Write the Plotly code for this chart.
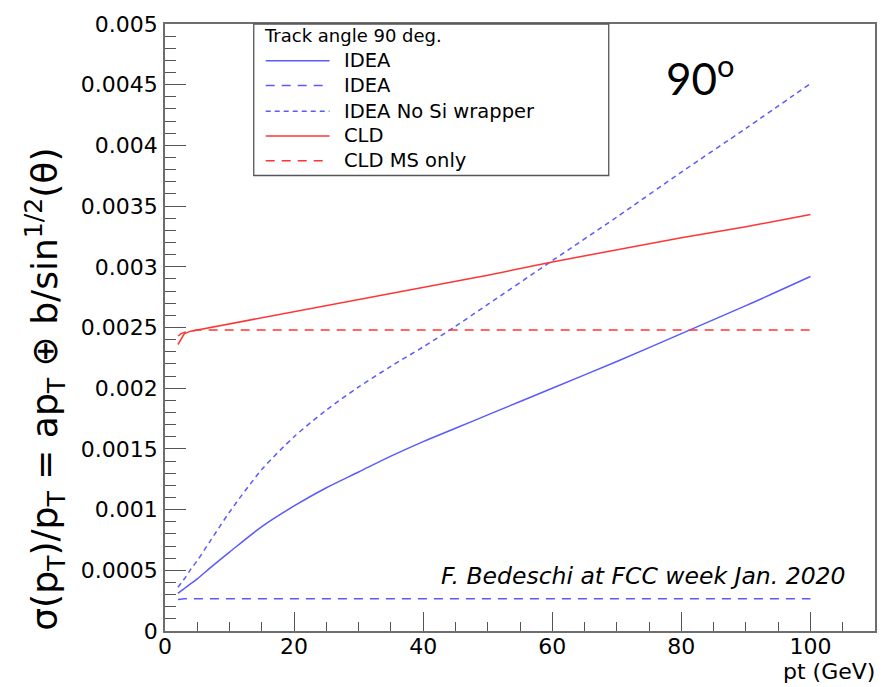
import plotly.graph_objects as go

# ---------------- data ----------------
pt = [2, 2.5, 3, 4, 5, 7, 10, 15, 20, 25, 30, 35, 40, 45, 50, 60, 70, 80, 90, 100]

idea = [0.00031, 0.00033, 0.00035, 0.00039, 0.00043, 0.00052, 0.00065, 0.00086,
        0.00103, 0.00118, 0.00131, 0.00144, 0.00156, 0.00167, 0.00178, 0.00200,
        0.00222, 0.00245, 0.00268, 0.00292]

idea_ms = [0.00026, 0.000263, 0.000265, 0.000265, 0.000265, 0.000265, 0.000265,
           0.000265, 0.000265, 0.000265, 0.000265, 0.000265, 0.000265, 0.000265,
           0.000265, 0.000265, 0.000265, 0.000265, 0.000265, 0.000265]

idea_nosi = [0.00036, 0.000395, 0.00043, 0.00051, 0.00058, 0.00074, 0.00098, 0.00133,
             0.00160, 0.00182, 0.00201, 0.00218, 0.00234, 0.00251, 0.00269, 0.00305,
             0.00341, 0.00378, 0.00414, 0.00451]

cld = [0.00236, 0.00241, 0.00245, 0.00247, 0.00248, 0.00250, 0.00253, 0.00258,
       0.00263, 0.00268, 0.00273, 0.00278, 0.00283, 0.00288, 0.00293, 0.00304,
       0.00314, 0.00324, 0.00333, 0.00343]

cld_ms = [0.00243, 0.00245, 0.00246, 0.00247, 0.00248, 0.00248, 0.00248, 0.00248,
          0.00248, 0.00248, 0.00248, 0.00248, 0.00248, 0.00248, 0.00248, 0.00248,
          0.00248, 0.00248, 0.00248, 0.00248]

series_names = ["IDEA", "IDEA", "IDEA No Si wrapper", "CLD", "CLD MS only"]

x_ticks = [0, 20, 40, 60, 80, 100]
y_ticks = [0, 0.0005, 0.001, 0.0015, 0.002, 0.0025, 0.003, 0.0035, 0.004, 0.0045, 0.005]
y_ticktext = ["0", "0.0005", "0.001", "0.0015", "0.002", "0.0025", "0.003",
              "0.0035", "0.004", "0.0045", "0.005"]

# ---------------- styling ----------------
W, H = 889, 687
ML, MR, MT, MB = 165, 12, 18, 56
PW, PH = W - ML - MR, H - MT - MB

BLUE = "#5a5aff"
RED = "#ff3434"
styles = [
    (BLUE, "solid", "spline"),
    (BLUE, "9px,7px", "linear"),
    (BLUE, "5px,4px", "spline"),
    (RED, "solid", "linear"),
    (RED, "9px,7px", "linear"),
]
data_series = [idea, idea_ms, idea_nosi, cld, cld_ms]


def px(xp):
    return (xp - ML) / PW


def py(yp):
    return (H - MB - yp) / PH


fig = go.Figure()
for name, ys, (col, dash, shape) in zip(series_names, data_series, styles):
    fig.add_trace(go.Scatter(x=pt, y=ys, mode="lines", name=name, showlegend=False,
                             hoverinfo="skip",
                             line=dict(color=col, width=1.5, dash=dash, shape=shape,
                                       smoothing=0.8)))

TICKFONT = dict(family="DejaVu Sans", size=22, color="black")
AXCOL = "#6e6e6e"

fig.update_xaxes(range=[0, 110], tickvals=x_ticks, ticks="inside", ticklen=19,
                 tickwidth=1.3, tickcolor="#555", showline=True, linecolor=AXCOL,
                 linewidth=1.5, mirror=True, showgrid=False, zeroline=False,
                 tickfont=TICKFONT, ticklabelstandoff=-5,
                 minor=dict(dtick=5, ticks="inside", ticklen=9, tickwidth=1.3,
                            tickcolor="#555", showgrid=False))
fig.update_yaxes(range=[0, 0.005], tickvals=y_ticks, ticktext=y_ticktext,
                 ticks="inside", ticklen=21, tickwidth=1.3, tickcolor="#555",
                 showline=True, linecolor=AXCOL, linewidth=1.5, mirror=True,
                 showgrid=False, zeroline=False, tickfont=TICKFONT,
                 ticklabelstandoff=1,
                 minor=dict(dtick=0.0001, ticks="inside", ticklen=11, tickwidth=1.3,
                            tickcolor="#555", showgrid=False))

shapes = []
annotations = []

# legend box (manual, ROOT style)
shapes.append(dict(type="rect", xref="paper", yref="paper",
                   x0=px(254), x1=px(610), y0=py(171), y1=py(18),
                   line=dict(color="#555", width=1.3), fillcolor="white", layer="above"))
annotations.append(dict(xref="paper", yref="paper", x=px(262), y=py(30),
                        xanchor="left", yanchor="middle", showarrow=False,
                        text="Track angle 90 deg.",
                        font=dict(family="DejaVu Sans", size=18, color="black")))
rows = [55, 80, 106, 131, 156]
for name, (col, dash, _), ry in zip(series_names, styles, rows):
    shapes.append(dict(type="line", xref="paper", yref="paper",
                       x0=px(266), x1=px(330), y0=py(ry), y1=py(ry),
                       line=dict(color=col, width=1.5, dash=dash), layer="above"))
    annotations.append(dict(xref="paper", yref="paper", x=px(342), y=py(ry),
                            xanchor="left", yanchor="middle", showarrow=False,
                            text=name,
                            font=dict(family="DejaVu Sans", size=19.5, color="black")))

# y-axis title
annotations.append(dict(xref="paper", yref="paper", x=px(45), y=py(387),
                        xanchor="center", yanchor="middle", showarrow=False,
                        textangle=-90,
                        text="σ(p<sub>T</sub>)/p<sub>T</sub> = ap<sub>T</sub> ⊕ b/sin<sup>1/2</sup>(θ)",
                        font=dict(family="DejaVu Sans", size=36, color="black")))
# x-axis title
annotations.append(dict(xref="paper", yref="paper", x=px(879), y=py(672),
                        xanchor="right", yanchor="middle", showarrow=False,
                        text="pt (GeV)",
                        font=dict(family="DejaVu Sans", size=22, color="black")))
# 90 degrees label
annotations.append(dict(xref="paper", yref="paper", x=px(702), y=py(70),
                        xanchor="center", yanchor="middle", showarrow=False,
                        text="90<sup>o</sup>",
                        font=dict(family="Lato", size=44, color="black")))
# credit
annotations.append(dict(xref="paper", yref="paper", x=px(850), y=py(575),
                        xanchor="right", yanchor="middle", showarrow=False,
                        text="<i>F. Bedeschi at FCC week Jan. 2020</i>",
                        font=dict(family="DejaVu Sans", size=23.5, color="black")))

fig.update_layout(width=W, height=H, margin=dict(l=ML, r=MR, t=MT, b=MB),
                  paper_bgcolor="white", plot_bgcolor="white",
                  shapes=shapes, annotations=annotations, showlegend=False)

fig.write_html("out.html", config={"displayModeBar": False},
               post_script="document.body.style.margin='0';"
                           "document.body.style.overflow='hidden';")
